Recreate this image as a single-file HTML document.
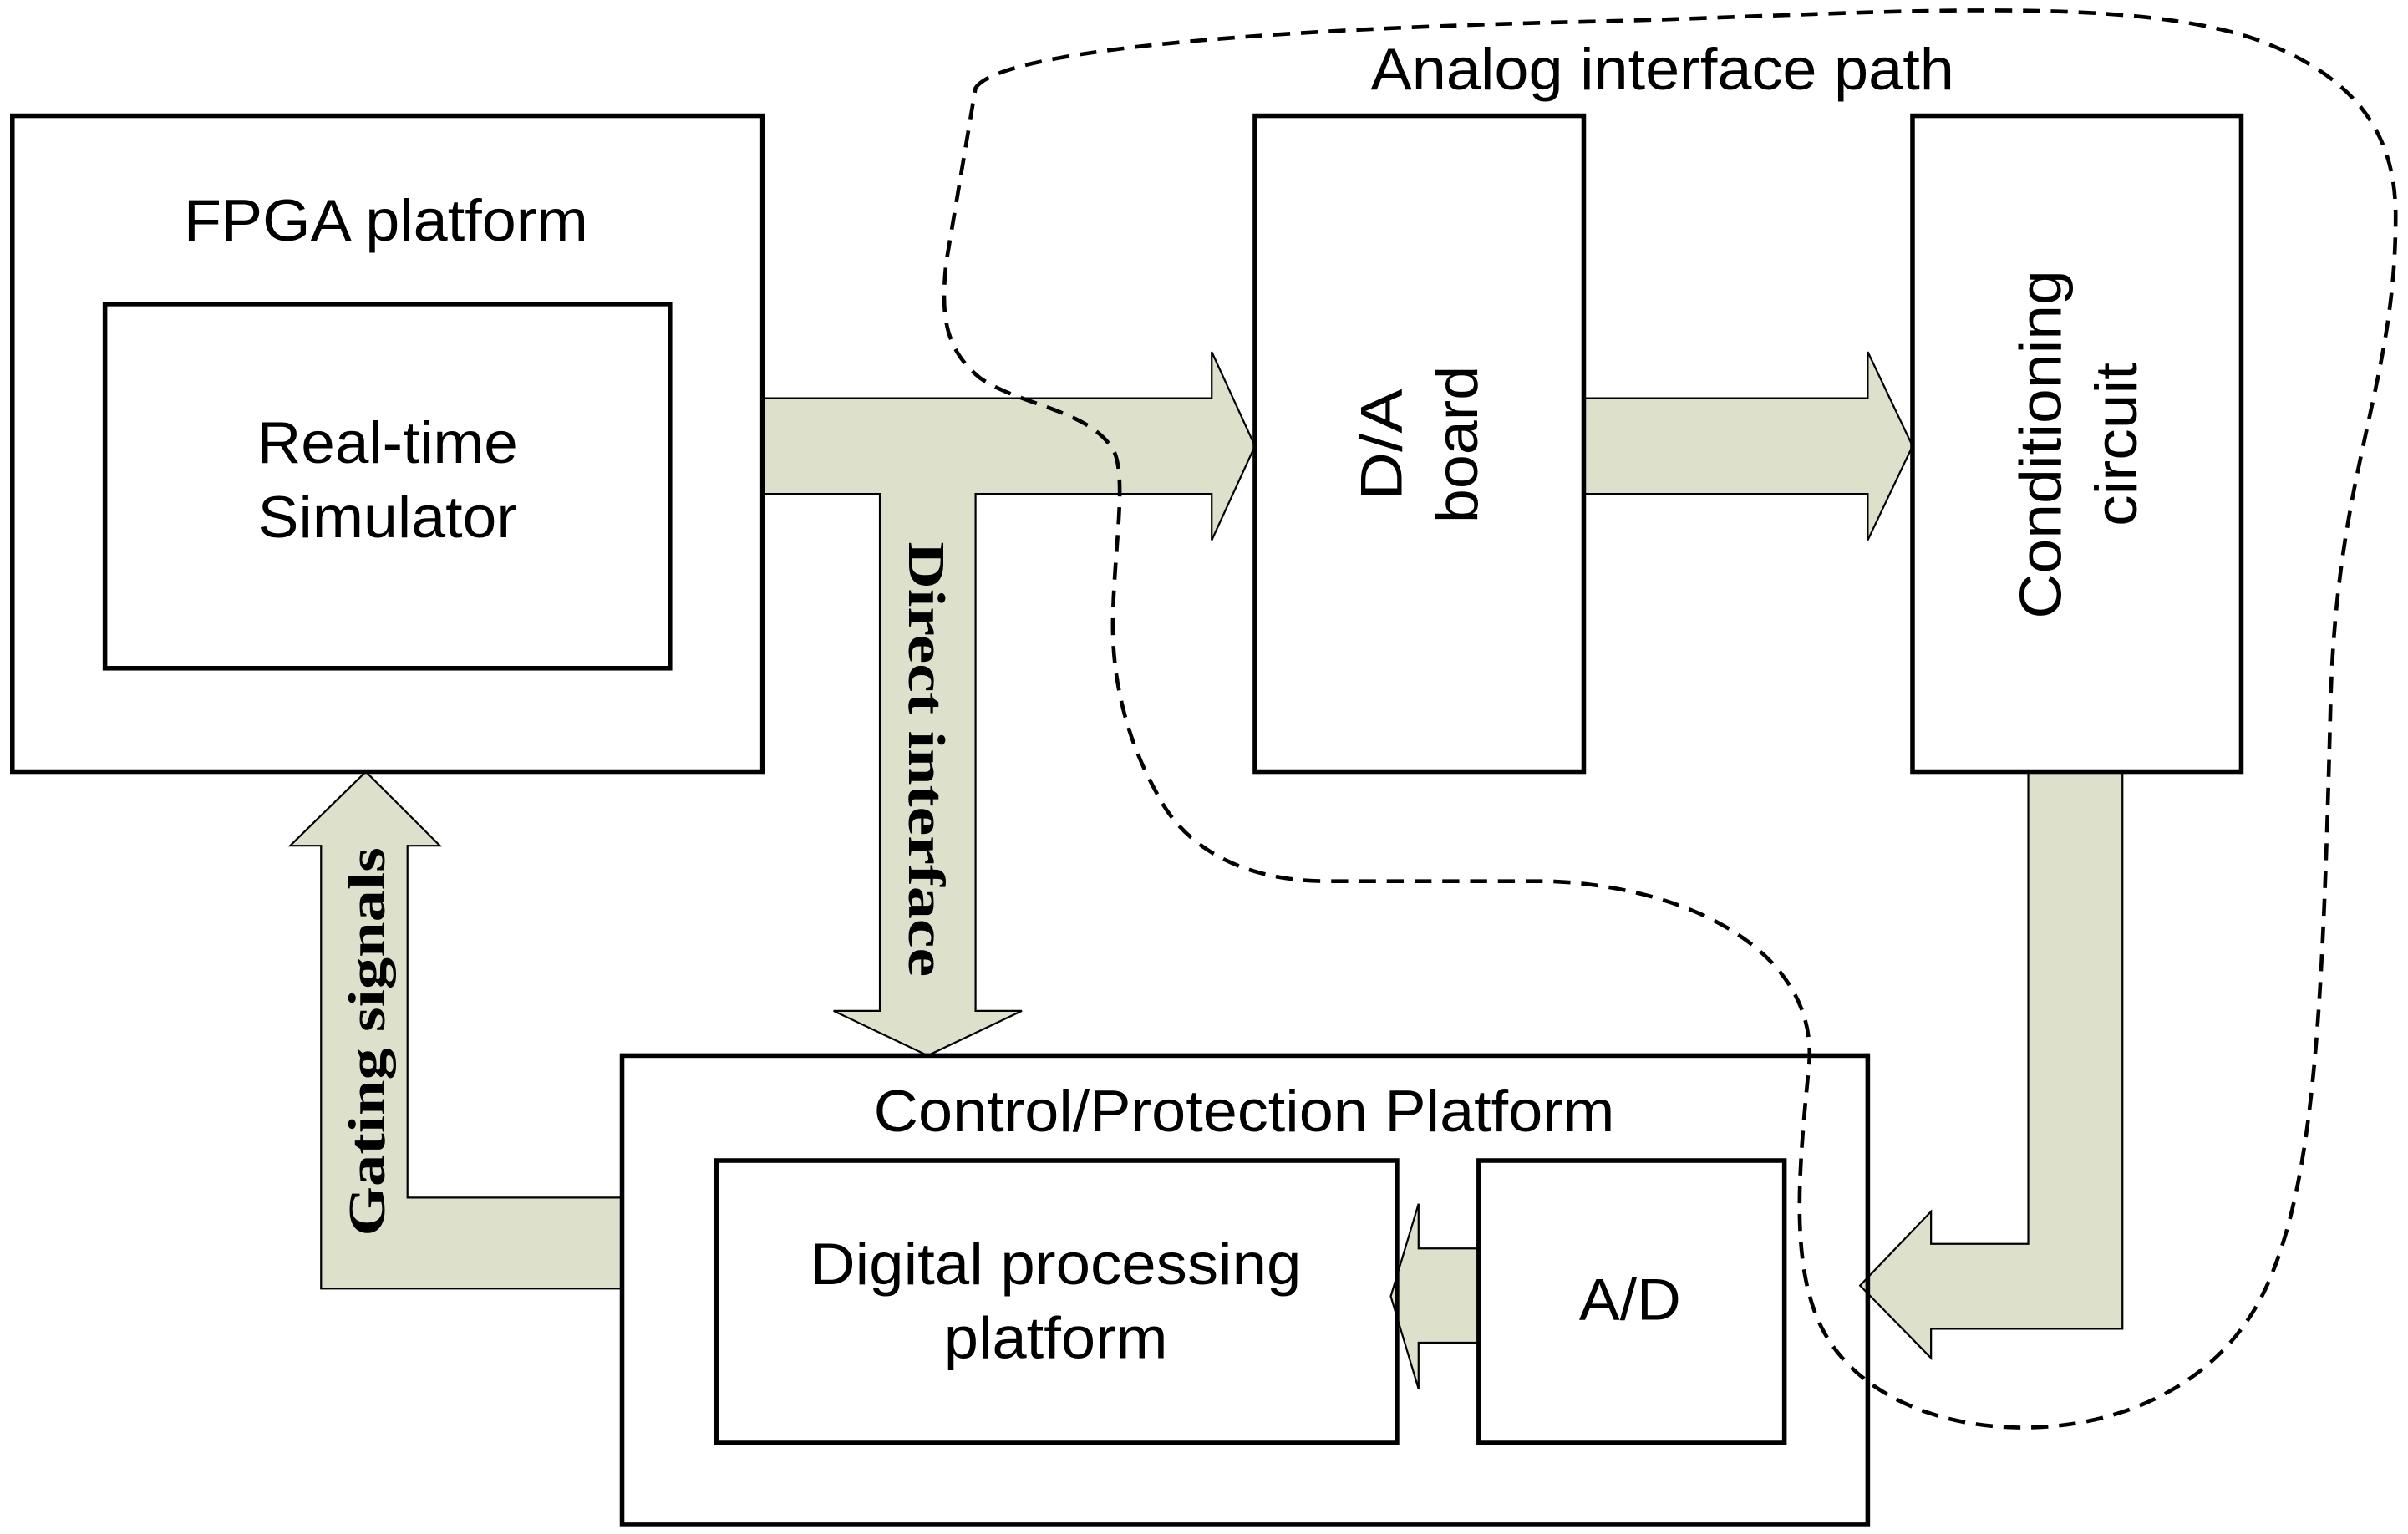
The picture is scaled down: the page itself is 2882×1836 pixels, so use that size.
<!DOCTYPE html>
<html><head><meta charset="utf-8"><style>
html,body{margin:0;padding:0;background:#fff;}
svg{display:block;}
text{font-family:"Liberation Sans",Arial,sans-serif;fill:#000;}
.b{font-family:"Liberation Serif",serif;font-weight:bold;}
</style></head><body>
<svg width="2882" height="1836" viewBox="0 0 1560 994" preserveAspectRatio="none" xmlns="http://www.w3.org/2000/svg">
<rect width="1560" height="994" fill="#fff"/>
<g fill="#DDE1CC" stroke="#000" stroke-width="1.2">
<polygon points="494,258 785,258 785,228 813,289 785,350 785,320 632,320 632,655 662,655 601,684 540,655 570,655 570,320 494,320"/>
<polygon points="1026,258 1210,258 1210,228 1239,289 1210,350 1210,320 1026,320"/>
<polygon points="1314,500 1375,500 1375,861 1251,861 1251,880 1205,833 1251,785 1251,806 1314,806"/>
<polygon points="958,809 919,809 919,780 901,840 919,900 919,870 958,870"/>
<polygon points="403,776 264,776 264,548 285,548 237,500 188,548 208,548 208,835 403,835"/>
</g>
<g fill="none" stroke="#000" stroke-width="3">
<rect x="8" y="75" width="486" height="425"/>
<rect x="68" y="197" width="366" height="236"/>
<rect x="813" y="75" width="213" height="425"/>
<rect x="1239" y="75" width="213" height="425"/>
<rect x="403" y="684" width="807" height="304"/>
<rect x="464" y="752" width="441" height="183"/>
<rect x="958" y="752" width="198" height="183"/>
</g>
<path d="M632 57 C650 30 850 18 1030 14 C1200 10 1370 -5 1460 25 C1530 50 1552 90 1552 140 C1552 250 1515 300 1510 450 C1505 650 1500 760 1470 830 C1440 900 1370 925 1311 925 C1250 925 1200 900 1180 860 C1160 820 1165 760 1172 690 C1178 620 1100 575 1004 571 L860 571 C800 571 765 545 750 515 C730 480 720 440 721 400 C722 350 732 300 718 287 C700 265 660 262 635 245 C610 225 610 200 613 170 Z" fill="none" stroke="#000" stroke-width="2.5" stroke-dasharray="11,7"/>
<text x="250" y="156" font-size="38" text-anchor="middle" textLength="262" lengthAdjust="spacingAndGlyphs">FPGA platform</text>
<text x="251" y="300" font-size="38" text-anchor="middle" textLength="169" lengthAdjust="spacingAndGlyphs">Real-time</text>
<text x="251" y="348" font-size="38" text-anchor="middle" textLength="168" lengthAdjust="spacingAndGlyphs">Simulator</text>
<text x="1077" y="58" font-size="38" text-anchor="middle" textLength="378" lengthAdjust="spacingAndGlyphs">Analog interface path</text>
<text x="806" y="733" font-size="38" text-anchor="middle" textLength="480" lengthAdjust="spacingAndGlyphs">Control/Protection Platform</text>
<text x="684" y="832" font-size="38" text-anchor="middle" textLength="318" lengthAdjust="spacingAndGlyphs">Digital processing</text>
<text x="684" y="880" font-size="38" text-anchor="middle" textLength="145" lengthAdjust="spacingAndGlyphs">platform</text>
<text x="1056" y="855" font-size="38" text-anchor="middle" textLength="66" lengthAdjust="spacingAndGlyphs">A/D</text>
<text transform="translate(908,288) rotate(-90)" font-size="38" text-anchor="middle" textLength="72" lengthAdjust="spacingAndGlyphs">D/A</text>
<text transform="translate(957,288) rotate(-90)" font-size="38" text-anchor="middle" textLength="102" lengthAdjust="spacingAndGlyphs">board</text>
<text transform="translate(1335,288) rotate(-90)" font-size="38" text-anchor="middle" textLength="226" lengthAdjust="spacingAndGlyphs">Conditioning</text>
<text transform="translate(1384,288) rotate(-90)" font-size="38" text-anchor="middle" textLength="106" lengthAdjust="spacingAndGlyphs">circuit</text>
<text class="b" transform="translate(589,492) rotate(90)" font-size="34" text-anchor="middle" textLength="282" lengthAdjust="spacingAndGlyphs">Direct  interface</text>
<text class="b" transform="translate(249,675) rotate(-90)" font-size="34" text-anchor="middle" textLength="252" lengthAdjust="spacingAndGlyphs">Gating signals</text>
</svg>
</body></html>
